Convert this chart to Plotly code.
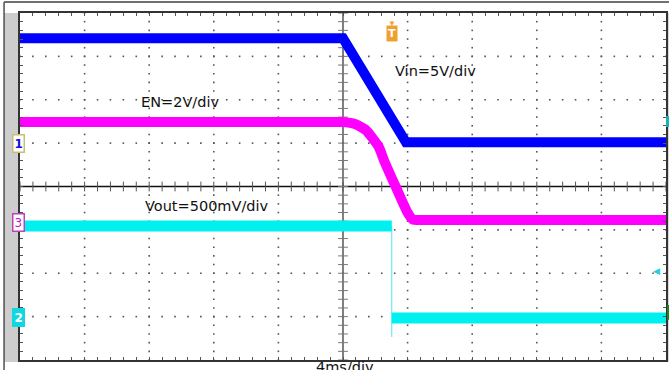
import numpy as np
import plotly.graph_objects as go

# ---------------- data (oscilloscope capture) ----------------
# time base: 4 ms/div, 10 divisions, trigger at centre
T_RANGE = [-20, 20]
Y_RANGE = [-4, 4]

# CH1  Vin  5 V/div, ground marker at +1.0 div
vin_t = [-20, 0.0, 3.9, 20]
vin_v = [12.1, 12.1, 0.1, 0.1]
VIN_SCALE, VIN_OFFSET = 5.0, 1.0

# CH3  EN  2 V/div, ground marker at -0.84 div
en_t = [-20, -1.0, 0.0, 0.74, 1.42, 2.22, 2.53, 3.27, 4.01, 4.32, 5.0, 20]
en_v = [4.65, 4.65, 4.65, 4.56, 4.28, 3.50, 2.90, 1.66, 0.46, 0.16, 0.14, 0.14]
EN_SCALE, EN_OFFSET = 2.0, -0.84

# CH2  Vout  500 mV/div, ground marker at -3.03 div
vout_t = [-20, 3.02, None, 3.02, 20]
vout_v = [1.06, 1.06, None, 0.0, 0.0]
vout_edge_t = [3.02, 3.02]
vout_edge_v = [1.06, -0.22]
VOUT_SCALE, VOUT_OFFSET = 0.5, -3.03

TRIG_T = 3.02

labels = {"vin": "Vin=5V/div", "en": "EN=2V/div", "vout": "Vout=500mV/div", "time": "4ms/div"}


def to_div(vals, scale, offset):
    return [None if v is None else v / scale + offset for v in vals]


fig = go.Figure()

# ---------------- graticule dots ----------------
gx, gy = [], []
for row in [-3, -2, -1, 1, 2, 3]:
    for t in np.arange(-20, 20.001, 0.8):
        gx.append(t); gy.append(row)
for col in [-16, -12, -8, -4, 4, 8, 12, 16]:
    for d in np.arange(-4, 4.001, 0.2):
        gx.append(col); gy.append(d)
fig.add_trace(go.Scatter(x=gx, y=gy, mode="markers", hoverinfo="skip",
                         marker=dict(symbol="square", size=1.6, color="#555555"),
                         showlegend=False))

# centre crosshair ticks
cx = list(np.arange(-20, 20.001, 0.8))
fig.add_trace(go.Scatter(x=cx, y=[0] * len(cx), mode="markers", hoverinfo="skip",
                         marker=dict(symbol="line-ns", size=7, color="#555555",
                                     line=dict(width=1, color="#555555")),
                         showlegend=False))
cy = list(np.arange(-4, 4.001, 0.2))
fig.add_trace(go.Scatter(x=[0] * len(cy), y=cy, mode="markers", hoverinfo="skip",
                         marker=dict(symbol="line-ew", size=7, color="#777777",
                                     line=dict(width=1, color="#777777")),
                         showlegend=False))

# ---------------- traces ----------------
fig.add_trace(go.Scatter(x=vout_edge_t, y=to_div(vout_edge_v, VOUT_SCALE, VOUT_OFFSET),
                         mode="lines", line=dict(color="rgba(0,220,235,0.7)", width=1),
                         showlegend=False))
fig.add_trace(go.Scatter(x=vout_t, y=to_div(vout_v, VOUT_SCALE, VOUT_OFFSET),
                         mode="lines", line=dict(color="#00f0f0", width=11),
                         connectgaps=False, showlegend=False))
fig.add_trace(go.Scatter(x=en_t, y=to_div(en_v, EN_SCALE, EN_OFFSET),
                         mode="lines", line=dict(color="#ff00ff", width=10, shape="spline", smoothing=0.5),
                         showlegend=False))
fig.add_trace(go.Scatter(x=vin_t, y=to_div(vin_v, VIN_SCALE, VIN_OFFSET),
                         mode="lines", line=dict(color="#0000ff", width=10),
                         showlegend=False))

# ---------------- geometry helpers (paper coords) ----------------
W, H = 671, 370
ML, MR, MT, MB = 20, 3, 13, 10
PW, PH = W - ML - MR, H - MT - MB


def px(x):
    return (x - ML) / PW


def py(y):
    return (H - MB - y) / PH


shapes = [
    # gray strip on the left
    dict(type="rect", xref="paper", yref="paper", x0=px(4), x1=px(20), y0=py(362), y1=py(13),
         fillcolor="#cdcdcd", line=dict(width=0), layer="below"),
    # outer frame lines
    dict(type="line", xref="paper", yref="paper", x0=px(4), x1=px(671), y0=py(2), y1=py(2),
         line=dict(color="#707070", width=2)),
    dict(type="line", xref="paper", yref="paper", x0=px(4), x1=px(4), y0=py(2), y1=py(370),
         line=dict(color="#505050", width=1.5)),
    # right edge gray
    dict(type="rect", xref="paper", yref="paper", x0=px(668), x1=px(671), y0=py(362), y1=py(13),
         fillcolor="#d8d8d8", line=dict(width=0), layer="below"),
    # centre crosshair
    dict(type="line", xref="x", yref="paper", x0=0, x1=0, y0=0, y1=1,
         line=dict(color="#808080", width=2), layer="below"),
    dict(type="line", xref="paper", yref="y", x0=0, x1=1, y0=0, y1=0,
         line=dict(color="#111111", width=1.5), layer="below"),
    # right-side markers
    dict(type="rect", xref="paper", yref="paper", x0=px(668), x1=px(671), y0=py(127), y1=py(116),
         fillcolor="#20b0b0", line=dict(width=0)),
    dict(type="rect", xref="paper", yref="paper", x0=px(669), x1=px(671), y0=py(320), y1=py(305),
         fillcolor="#208020", line=dict(width=0)),
]

FONT = "DejaVu Sans, sans-serif"
LBL = dict(family=FONT, size=14.5, color="#111111")
ann = [
    dict(x=5.74, y=2.66, xref="x", yref="y", text=labels["vin"], showarrow=False, font=LBL),
    dict(x=-10.12, y=1.95, xref="x", yref="y", text=labels["en"], showarrow=False, font=LBL),
    dict(x=-8.43, y=-0.44, xref="x", yref="y", text=labels["vout"], showarrow=False, font=LBL),
    dict(x=px(346), y=py(357), xref="paper", yref="paper", yanchor="top", text=labels["time"],
         showarrow=False, font=LBL),
    # channel ground markers
    dict(x=px(12), y=VIN_OFFSET, xref="paper", yref="y", text="<b>1</b>", showarrow=False,
         font=dict(family=FONT, size=12, color="#1010e0"), bgcolor="white",
         bordercolor="#c8c070", borderwidth=1.5, borderpad=1),
    dict(x=px(12), y=EN_OFFSET, xref="paper", yref="y", text="3", showarrow=False,
         font=dict(family=FONT, size=12, color="#c020c0"), bgcolor="white",
         bordercolor="#c040c0", borderwidth=1.5, borderpad=1),
    dict(x=px(12), y=VOUT_OFFSET, xref="paper", yref="y", text="<b>2</b>", showarrow=False,
         font=dict(family=FONT, size=12, color="white"), bgcolor="#10d8e0",
         bordercolor="#10d8e0", borderwidth=1.5, borderpad=1),
    # trigger marker
    dict(x=TRIG_T, y=py(15), xref="x", yref="paper", text="▼", showarrow=False,
         font=dict(size=8, color="#f0a030")),
    dict(x=TRIG_T, y=py(25), xref="x", yref="paper", text="<b>T</b>", showarrow=False,
         font=dict(family=FONT, size=11, color="white"), bgcolor="#f0a030", borderpad=1),
    # right-side trigger level arrow
    dict(x=px(664), y=py(279), xref="paper", yref="paper", text="◀", showarrow=False,
         font=dict(size=9, color="#20d0e0")),
]

axis_common = dict(showgrid=False, zeroline=False, showticklabels=False,
                   showline=True, linecolor="#333333", linewidth=1.5, mirror="ticks",
                   ticks="inside", ticklen=3, tickcolor="#555555", tickwidth=1)

fig.update_layout(
    width=W, height=H,
    margin=dict(l=ML, r=MR, t=MT, b=MB),
    paper_bgcolor="white", plot_bgcolor="white",
    xaxis=dict(range=T_RANGE, tick0=-20, dtick=0.8, **axis_common),
    yaxis=dict(range=Y_RANGE, tick0=-4, dtick=0.2, **axis_common),
    shapes=shapes, annotations=ann, showlegend=False,
)

fig.write_html("out.html", config={"displayModeBar": False},
               post_script="document.body.style.margin='0px';document.body.style.overflow='hidden';")
